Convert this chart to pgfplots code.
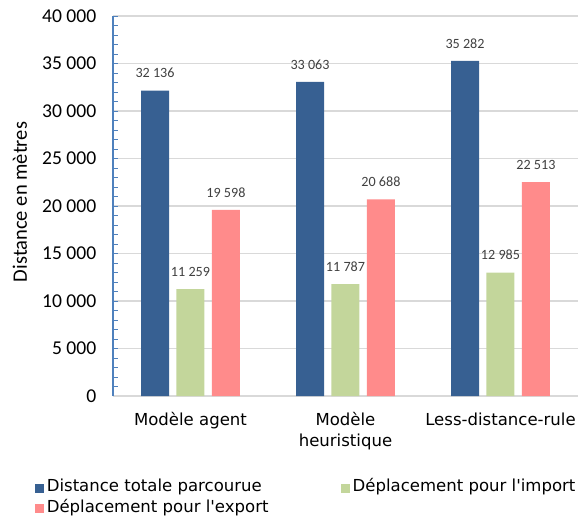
\documentclass[border=0pt]{standalone}
\usepackage{pgfplots}
\pgfplotsset{compat=1.18}
\usepackage{fontspec}
\setmainfont{DejaVu Sans}
\newfontfamily\carlito{Carlito}
\definecolor{cblue}{HTML}{376092}
\definecolor{cgreen}{HTML}{C3D69B}
\definecolor{cpink}{HTML}{FF8B8B}
\definecolor{gridgray}{HTML}{D9D9D9}
\definecolor{axblue}{HTML}{4F81BD}
\definecolor{lblgray}{HTML}{404040}
\begin{document}
\begin{tikzpicture}
\useasboundingbox (0,0) rectangle (437.25pt,389.25pt);
\begin{axis}[
  at={(84.75pt,92.25pt)}, anchor=south west,
  scale only axis, width=348.75pt, height=285pt,
  xmin=-0.5, xmax=2.5, ymin=0, ymax=40000,
  ybar=5.6pt, bar width=21pt,
  axis x line*=bottom, axis y line*=left,
  x axis line style={-, draw=gridgray, line width=1.1pt},
  y axis line style={-, draw=axblue, line width=1pt},
  ytick={0,5000,...,40000}, minor y tick num=4,
  ymajorgrids, grid style={draw=gridgray, line width=1.1pt},
  tick align=inside,
  y tick style={draw=axblue, line width=0.7pt},
  major tick length=3.5pt, minor tick length=3.5pt,
  xtick={0,1,2},
  xticklabels={Modèle agent,{Modèle\\heuristique},Less-distance-rule},
  x tick style={draw=none},
  xticklabel style={align=center, anchor=north, font=\fontsize{12.4}{15.75}\selectfont, yshift=-9pt},
  yticklabel style={font=\carlito\fontsize{14.7}{16}\selectfont, xshift=-9pt},
  /pgf/number format/assume math mode=true,
  /pgf/number format/1000 sep={\ },
  scaled y ticks=false,
  ylabel={Distance en mètres},
  ylabel style={font=\carlito\fontsize{15.4}{17}\selectfont, at={(axis description cs:-0.200,0.5105)}, anchor=center},
  nodes near coords,
  nodes near coords style={font=\carlito\fontsize{10.6}{12}\selectfont, text=lblgray, yshift=6pt},
  legend columns=2,
  legend image code/.code={\fill[#1, draw=none] (0pt,-3.4pt) rectangle (6.8pt,3.4pt);},
  legend style={draw=none, fill=none, inner sep=0pt,
    at={(axis description cs:-0.169,-0.2145)}, anchor=north west,
    font=\fontsize{12.4}{15}\selectfont,
    nodes={inner sep=0.5pt, text height=10pt, text depth=4.5pt},
    /tikz/every odd column/.append style={column sep=1.8pt},
    /tikz/every even column/.append style={column sep=53.5pt}},
  legend cell align=left,
]
\addplot[fill=cblue, draw=none] coordinates {(0,32136) (1,33063) (2,35282)};
\addplot[fill=cgreen, draw=none] coordinates {(0,11259) (1,11787) (2,12985)};
\addplot[fill=cpink, draw=none] coordinates {(0,19598) (1,20688) (2,22513)};
\legend{Distance totale parcourue, Déplacement pour l\textquotesingle import, Déplacement pour l\textquotesingle export}
\end{axis}
\end{tikzpicture}
\end{document}
